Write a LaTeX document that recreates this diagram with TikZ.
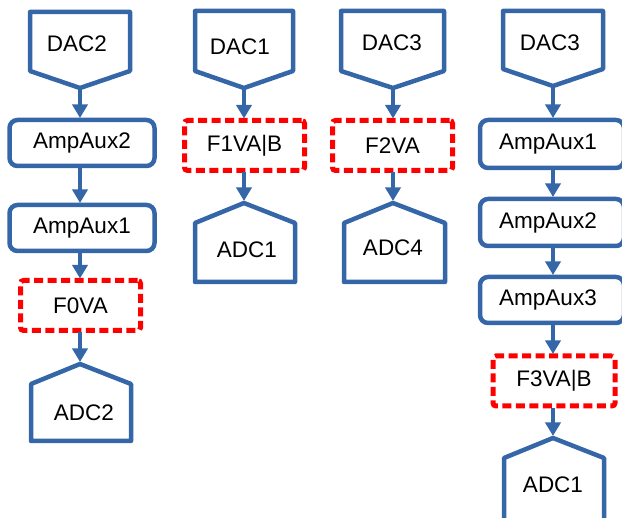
\documentclass[tikz,border=0pt]{standalone}
\usepackage{fontspec}
\setmainfont{Liberation Sans}
\usetikzlibrary{arrows.meta}
\definecolor{bl}{RGB}{52,102,168}
\begin{document}
\begin{tikzpicture}[x=1pt,y=-1pt,
  every node/.style={font=\fontsize{22.5}{27}\selectfont, inner sep=0pt, outer sep=2pt},
  blk/.style={draw=bl, line width=4.5pt, rounded corners=8pt, minimum width=145pt, minimum height=46pt},
  flt/.style={draw=red, line width=5pt, dash pattern=on 9pt off 4.5pt, rounded corners=3pt, minimum width=120pt, minimum height=50pt},
  port/.style={draw=bl, line width=4.5pt, line join=round},
  conn/.style={draw=bl, line width=4.2pt, -{Triangle[width=15pt,length=13.5pt]}},
  lbl/.style={outer sep=0pt}]
\path[use as bounding box, clip] (0,0) rectangle (622,518);

% ---------- column 1 ----------
\draw[port] (30,12) -- (130,12) -- (130,71) -- (80,88) -- (30,71) -- cycle;
\coordinate (d2t) at (80,88);
\node[lbl] (d2) at (77,44) {DAC2};
\node[blk] (a2l) at (82,143) {AmpAux2};
\node[blk] (a1l) at (82,228) {AmpAux1};
\node[flt] (f0) at (80.5,305.5) {F0VA};
\draw[port] (31,441) -- (31,384) -- (80,364) -- (131,384) -- (131,441) -- cycle;
\coordinate (a2t) at (80,362);
\node[lbl] (adc2) at (84,413) {ADC2};
\draw[conn] (d2t) -- (d2t |- a2l.north);
\draw[conn] (d2t |- a2l.south) -- (d2t |- a1l.north);
\draw[conn] (d2t |- a1l.south) -- (d2t |- f0.north);
\draw[conn] (d2t |- f0.south) -- (a2t);

% ---------- column 2 ----------
\draw[port] (195,11) -- (293,11) -- (293,71) -- (244,88) -- (195,71) -- cycle;
\coordinate (d1t) at (244,88);
\node[lbl] (d1) at (240,47) {DAC1};
\node[flt] (f1) at (244.5,145.5) {F1VA|B};
\draw[port] (195,282) -- (195,223) -- (244,203) -- (295,223) -- (295,282) -- cycle;
\coordinate (ad1t) at (244,201);
\node[lbl] (adc1a) at (247,250) {ADC1};
\draw[conn] (d1t) -- (d1t |- f1.north);
\draw[conn] (d1t |- f1.south) -- (ad1t);

% ---------- column 3 ----------
\draw[port] (341,11) -- (444,11) -- (444,71) -- (393,88) -- (341,71) -- cycle;
\coordinate (d3t) at (393,88);
\node[lbl] (d3) at (392,43) {DAC3};
\node[flt] (f2) at (392.5,145.5) {F2VA};
\draw[port] (344,282) -- (344,223) -- (393,203) -- (445,223) -- (445,282) -- cycle;
\coordinate (ad4t) at (393,201);
\node[lbl] (adc4) at (393,248) {ADC4};
\draw[conn] (d3t) -- (d3t |- f2.north);
\draw[conn] (d3t |- f2.south) -- (ad4t);

% ---------- column 4 ----------
\draw[port] (503,11) -- (603,11) -- (603,69) -- (553,86) -- (503,69) -- cycle;
\coordinate (d3bt) at (553,86);
\node[lbl] (d3b) at (550,43) {DAC3};
\node[blk, minimum width=144pt, minimum height=48pt] (a1r) at (552,144) {\hspace*{-8pt}AmpAux1};
\node[blk, minimum width=144pt, minimum height=47pt] (a2r) at (552,222.5) {\hspace*{-8pt}AmpAux2};
\node[blk, minimum width=144pt, minimum height=46pt] (a3r) at (552,300) {\hspace*{-8pt}AmpAux3};
\node[flt, minimum width=122pt] (f3) at (554,381) {F3VA|B};
\draw[port] (504,530) -- (504,458) -- (553,438) -- (604,458) -- (604,530) -- cycle;
\coordinate (ad1bt) at (553,436);
\node[lbl] (adc1b) at (553,485) {ADC1};
\draw[conn] (d3bt) -- (d3bt |- a1r.north);
\draw[conn] (d3bt |- a1r.south) -- (d3bt |- a2r.north);
\draw[conn] (d3bt |- a2r.south) -- (d3bt |- a3r.north);
\draw[conn] (d3bt |- a3r.south) -- (d3bt |- f3.north);
\draw[conn] (d3bt |- f3.south) -- (ad1bt);
\end{tikzpicture}
\end{document}
